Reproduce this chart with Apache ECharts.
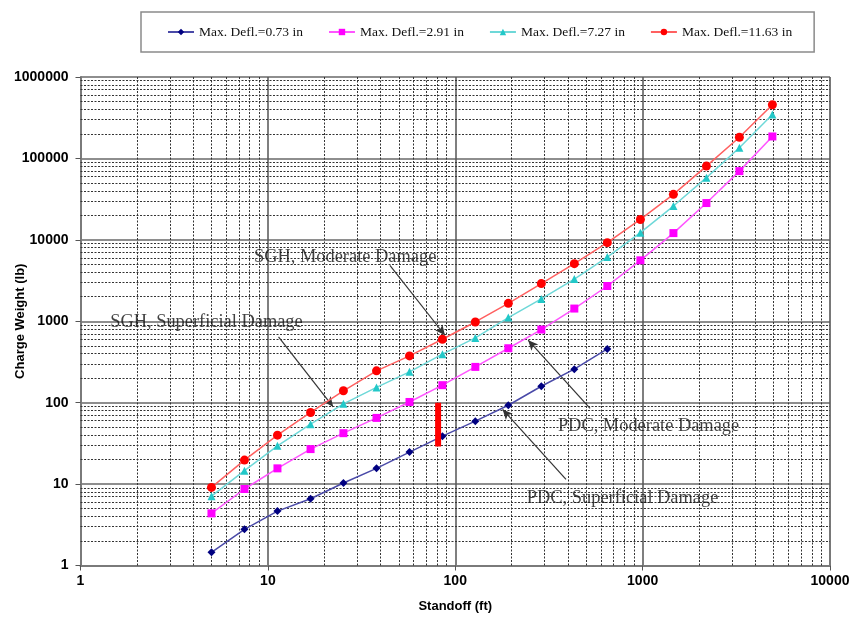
<!DOCTYPE html>
<html>
<head>
<meta charset="utf-8">
<script src="https://cdn.jsdelivr.net/npm/echarts@6/dist/echarts.min.js"></script>
<style>
  html, body { margin: 0; padding: 0; background: #fff; }
  #chart { width: 852px; height: 619px; }
</style>
</head>
<body>
<div id="chart"></div>
<script>
// standoff values (ft)
var standoff = [5, 7.5, 11.25, 16.9, 25.3, 38, 57, 85.4, 128, 192, 288, 432, 648, 973, 1460, 2190, 3284, 4926];
var seriesNames = ['Max. Defl.=0.73 in', 'Max. Defl.=2.91 in', 'Max. Defl.=7.27 in', 'Max. Defl.=11.63 in'];
// charge weight (lb)
var defl073 = [1.45, 2.78, 4.66, 6.6, 10.3, 15.6, 24.7, 38.8, 59.3, 93, 159, 258, 457];
var defl291 = [4.37, 8.7, 15.6, 26.9, 42.2, 65, 102, 164, 275, 466, 791, 1432, 2710, 5600, 12100, 28300, 69800, 186000];
var defl727 = [7.1, 14.6, 29.5, 54.5, 96.7, 154, 239, 394, 624, 1110, 1878, 3300, 6150, 12250, 26000, 58000, 135000, 347000];
var defl1163 = [9.1, 19.7, 39.9, 75.8, 140, 246, 375, 601, 980, 1660, 2900, 5100, 9240, 17800, 36200, 80500, 182000, 456000];

// red bar at ~80 ft
var barX = [81, 81];
var barY = [29, 100];

// annotations: label anchor and arrow start/end (data units)
var noteText = ['SGH, Moderate Damage', 'SGH, Superficial Damage', 'PDC, Moderate Damage', 'PDC, Superficial Damage'];
var notePos = [[8.43, 6050], [1.44, 980], [353, 51.5], [241, 6.67]];
var arrowFrom = [[44.8, 4865], [11.4, 642], [524, 84.9], [390, 11.4]];
var arrowTo = [[88.1, 673], [22.3, 88.8], [245, 585], [179, 82.5]];

var xDecades = [1, 10, 100, 1000];
var yDecades = [1, 10, 100, 1000, 10000, 100000];
var minorSteps = [2, 3, 4, 5, 6, 7, 8, 9];

var chart = echarts.init(document.getElementById('chart'));

function zip(xs, ys) {
    var out = [];
    for (var i = 0; i < ys.length; i++) out.push([xs[i], ys[i]]);
    return out;
}

var minorLines = [];
xDecades.forEach(function (d) {
    minorSteps.forEach(function (m) { minorLines.push({ xAxis: d * m }); });
});
yDecades.forEach(function (d) {
    minorSteps.forEach(function (m) { minorLines.push({ yAxis: d * m }); });
});

var arrows = arrowFrom.map(function (p, i) {
    return [{ coord: p }, { coord: arrowTo[i] }];
});

var notes = noteText.map(function (t, i) {
    return { name: t, value: notePos[i] };
});

var axisFont = { fontFamily: 'Liberation Sans, Arial', fontWeight: 'bold', fontSize: 13, color: '#000' };
var tickFont = { fontFamily: 'Liberation Sans, Arial', fontWeight: 'bold', fontSize: 14, color: '#000' };

function dataSeries(name, ys, symbol, size, markerColor, lineColor) {
    return {
        name: name,
        type: 'line',
        data: zip(standoff, ys),
        symbol: symbol,
        symbolSize: size,
        z: 5,
        itemStyle: { color: markerColor },
        lineStyle: { color: lineColor, width: 1.5 },
        emphasis: { disabled: true }
    };
}

var option = {
    animation: false,
    backgroundColor: '#fff',
    legend: {
        data: seriesNames,
        left: 141,
        top: 12,
        padding: [13, 22, 13, 26],
        itemGap: 25,
        itemWidth: 26,
        itemHeight: 8,
        borderColor: '#8a8a8a',
        borderWidth: 1.5,
        textStyle: { fontFamily: 'Liberation Serif, Times New Roman', fontSize: 13.5, color: '#111' }
    },
    grid: {
        left: 80.5,
        right: 22,
        top: 77,
        bottom: 53.5,
        outerBoundsMode: 'none',
        containLabel: false,
        show: true,
        borderColor: '#c8c8c8',
        borderWidth: 1
    },
    xAxis: {
        type: 'log',
        logBase: 10,
        min: 1,
        max: 10000,
        name: 'Standoff (ft)',
        nameLocation: 'middle',
        nameGap: 34,
        nameMoveOverlap: false,
        nameTextStyle: axisFont,
        axisLine: { lineStyle: { color: '#7a7a7a', width: 2 } },
        axisTick: { show: true, length: 5, lineStyle: { color: '#555' } },
        axisLabel: { margin: 9, textStyle: tickFont, formatter: function (v) { return String(Math.round(v)); } },
        splitLine: { show: true, lineStyle: { color: '#555', width: 1.5 } },
        minorTick: { show: false },
        minorSplitLine: { show: false }
    },
    yAxis: {
        type: 'log',
        logBase: 10,
        min: 1,
        max: 1000000,
        name: 'Charge Weight (lb)',
        nameLocation: 'middle',
        nameGap: 54,
        nameMoveOverlap: false,
        nameTextStyle: axisFont,
        axisLine: { show: true, lineStyle: { color: '#7a7a7a', width: 2 } },
        axisTick: { show: true, length: 5, lineStyle: { color: '#555' } },
        axisLabel: { margin: 12, textStyle: tickFont, formatter: function (v) { return String(Math.round(v)); } },
        splitLine: { show: true, lineStyle: { color: '#8e8e8e', width: 2 } },
        minorTick: { show: false },
        minorSplitLine: { show: false }
    },
    series: [
        {
            name: 'minor grid',
            type: 'line',
            data: [],
            z: 1,
            silent: true,
            markLine: {
                silent: true,
                symbol: ['none', 'none'],
                label: { show: false },
                animation: false,
                lineStyle: { color: '#333', type: [2, 1.5], width: 1 },
                data: minorLines
            }
        },
        dataSeries(seriesNames[0], defl073, 'diamond', 8, '#000080', '#4a4aa8'),
        dataSeries(seriesNames[1], defl291, 'rect', 8, '#ff00ff', '#ff55ff'),
        dataSeries(seriesNames[2], defl727, 'triangle', 8, '#22c8c8', '#6ed8d8'),
        dataSeries(seriesNames[3], defl1163, 'circle', 9, '#ff0000', '#ff6060'),
        {
            name: 'bar',
            type: 'line',
            data: zip(barX, barY),
            showSymbol: false,
            symbol: 'none',
            z: 6,
            lineStyle: { color: '#ff0000', width: 6, cap: 'butt' }
        },
        {
            name: 'arrows',
            type: 'line',
            data: [],
            z: 7,
            markLine: {
                silent: true,
                symbol: ['none', 'arrow'],
                symbolSize: [7, 10],
                label: { show: false },
                animation: false,
                lineStyle: { color: '#333', type: 'solid', width: 1.2 },
                data: arrows
            }
        },
        {
            name: 'notes',
            type: 'scatter',
            data: notes,
            symbolSize: 0,
            z: 8,
            silent: true,
            label: {
                show: true,
                position: 'right',
                distance: 0,
                formatter: '{b}',
                fontFamily: 'Liberation Serif, Times New Roman',
                fontSize: 18.4,
                color: '#111'
            }
        }
    ]
};

chart.setOption(option);
</script>
</body>
</html>
